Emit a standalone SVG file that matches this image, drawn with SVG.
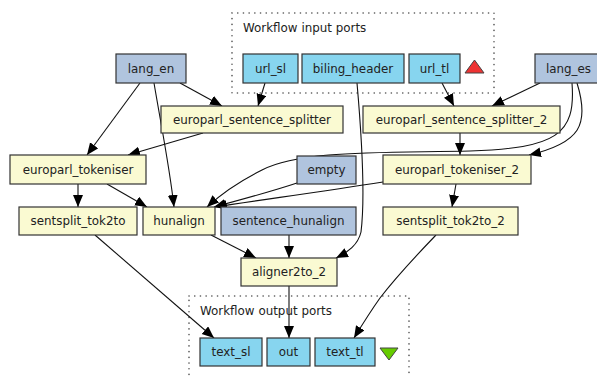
<svg xmlns="http://www.w3.org/2000/svg" width="597" height="376" viewBox="0 0 597 376">
<style>
text{font-family:"DejaVu Sans","Liberation Sans",Arial,sans-serif;font-size:11.9px;fill:#222;}
.n text{text-anchor:middle;}
.p rect{fill:#fafad2;stroke:#333;stroke-width:1.2;}
.i rect{fill:#87d5ef;stroke:#333;stroke-width:1.2;}
.c rect{fill:#b0c4de;stroke:#333;stroke-width:1.2;}
.cl{fill:none;stroke:#555;stroke-width:1.6;stroke-dasharray:0.1,5.6;stroke-linecap:round;}
#edges path{fill:none;stroke:#111;stroke-width:1.1;marker-end:url(#ah);}
</style>
<defs>
<marker id="ah" markerWidth="13" markerHeight="11" refX="12" refY="5" orient="auto" markerUnits="userSpaceOnUse">
<path d="M0,0 L12,5 L0,10 z" fill="#000"/>
</marker>
</defs>
<rect width="597" height="376" fill="#fff"/>
<g id="input_ports_cluster">
<rect class="cl" x="232" y="13" width="262" height="80"/>
<text x="243" y="32" style="text-anchor:start">Workflow input ports</text>
<polygon points="465,73 484,73 474.5,60" fill="#ee3333" stroke="#444" stroke-width="1"/>
</g>
<g id="output_ports_cluster">
<rect class="cl" x="189" y="296" width="220" height="90"/>
<text x="200" y="315" style="text-anchor:start">Workflow output ports</text>
<polygon points="380,348 398,348 389,360" fill="#66cc00" stroke="#444" stroke-width="1"/>
</g>
<g id="edges">
<path d="M180,83 L222,106"/>
<path d="M140,83 L87,155"/>
<path d="M154,83 C162,130 170,170 174,207"/>
<path d="M265,83 L258,106"/>
<path d="M203,133 L128,155"/>
<path d="M357,83 C362,140 365,200 361,232 C358,245 348,252 336,258"/>
<path d="M442,83 L454,106"/>
<path d="M540,83 L492,106"/>
<path d="M460,133 L460,155"/>
<path d="M577,83 C590,125 580,143 529,155"/>
<path d="M572,83 C576,135 556,148 470,151 C380,153 300,150 262,170 C238,182 220,195 207,207"/>
<path d="M297,183 C270,192 240,200 214,207"/>
<path d="M383,182 C320,192 260,200 215,207"/>
<path d="M78,184 L78,207"/>
<path d="M107,184 L147,207"/>
<path d="M456,184 L452,207"/>
<path d="M211,235 L256,258"/>
<path d="M289,235 L289,258"/>
<path d="M95,235 L214,338"/>
<path d="M289,286 L289,338"/>
<path d="M436,235 C410,262 390,285 380,298 C370,312 362,325 354,338"/>
</g>
<g id="lang_en" class="n c"><rect x="116" y="54" width="70" height="29"/><text x="151" y="72.5">lang_en</text></g>
<g id="url_sl" class="n i"><rect x="243" y="54" width="55" height="29"/><text x="270.5" y="72.5">url_sl</text></g>
<g id="biling_header" class="n i"><rect x="302" y="54" width="102" height="29"/><text x="353" y="72.5">biling_header</text></g>
<g id="url_tl" class="n i"><rect x="409" y="54" width="51" height="29"/><text x="434.5" y="72.5">url_tl</text></g>
<g id="lang_es" class="n c"><rect x="535" y="54" width="67" height="29"/><text x="568.5" y="72.5">lang_es</text></g>
<g id="europarl_sentence_splitter" class="n p"><rect x="161" y="106" width="182" height="27"/><text x="252" y="123.5">europarl_sentence_splitter</text></g>
<g id="europarl_sentence_splitter_2" class="n p"><rect x="363" y="106" width="197" height="27"/><text x="461.5" y="123.5">europarl_sentence_splitter_2</text></g>
<g id="europarl_tokeniser" class="n p"><rect x="10" y="155" width="136" height="29"/><text x="78" y="173.5">europarl_tokeniser</text></g>
<g id="empty" class="n c"><rect x="297" y="156" width="59" height="28"/><text x="326.5" y="173.5">empty</text></g>
<g id="europarl_tokeniser_2" class="n p"><rect x="383" y="155" width="148" height="29"/><text x="457" y="173.5">europarl_tokeniser_2</text></g>
<g id="sentsplit_tok2to" class="n p"><rect x="19" y="207" width="118" height="28"/><text x="78" y="225">sentsplit_tok2to</text></g>
<g id="hunalign" class="n p"><rect x="143" y="207" width="72" height="28"/><text x="179" y="225">hunalign</text></g>
<g id="sentence_hunalign" class="n c"><rect x="221" y="207" width="135" height="28"/><text x="288.5" y="225">sentence_hunalign</text></g>
<g id="sentsplit_tok2to_2" class="n p"><rect x="383" y="207" width="135" height="28"/><text x="450.5" y="225">sentsplit_tok2to_2</text></g>
<g id="aligner2to_2" class="n p"><rect x="241" y="258" width="96" height="28"/><text x="289" y="276">aligner2to_2</text></g>
<g id="text_sl" class="n i"><rect x="200" y="338" width="62" height="28"/><text x="231" y="356">text_sl</text></g>
<g id="out" class="n i"><rect x="267" y="338" width="43" height="28"/><text x="288.5" y="356">out</text></g>
<g id="text_tl" class="n i"><rect x="315" y="338" width="60" height="28"/><text x="345" y="356">text_tl</text></g>
</svg>
